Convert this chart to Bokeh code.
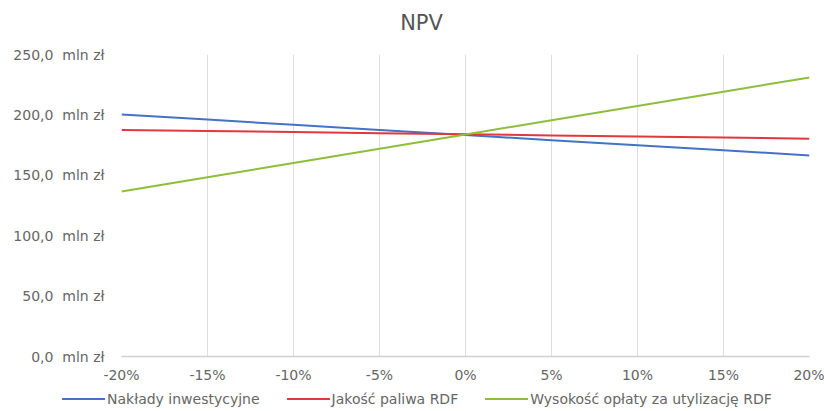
from bokeh.plotting import figure
from bokeh.layouts import column
from bokeh.models import FixedTicker, Range1d, Label, Div
from bokeh.embed import file_html
from bokeh.resources import INLINE

x_pct = [-20, -15, -10, -5, 0, 5, 10, 15, 20]
x_labels = ["-20%", "-15%", "-10%", "-5%", "0%", "5%", "10%", "15%", "20%"]
naklady = [200.3, 196.1, 191.8, 187.6, 183.4, 179.1, 174.9, 170.7, 166.4]
jakosc = [187.6, 186.7, 185.8, 184.9, 184.0, 183.0, 182.1, 181.2, 180.3]
oplata = [136.6, 148.4, 160.2, 172.0, 183.8, 195.6, 207.4, 219.2, 231.0]
y_ticks = [0, 50, 100, 150, 200, 250]
y_labels = ["0,0\u00a0 mln zł", "50,0\u00a0 mln zł", "100,0\u00a0 mln zł",
            "150,0\u00a0 mln zł", "200,0\u00a0 mln zł", "250,0\u00a0 mln zł"]
series_names = ["Nakłady inwestycyjne", "Jakość paliwa RDF", "Wysokość opłaty za utylizację RDF"]
colors = ["#4472C4", "#E0383E", "#8DBF3A"]
title_text = "NPV"

FONT = "DejaVu Sans"
TXT = "#666666"

# --- title strip (its frame is aligned with the chart frame: x 121..809) ---
tf = figure(width=824, height=44, output_backend="svg", toolbar_location=None,
            x_range=Range1d(121, 809), y_range=Range1d(0, 44),
            min_border=0, x_axis_type=None, y_axis_type=None)
tf.outline_line_color = None
tf.grid.visible = False
tf.add_layout(Label(x=421, y=22, text=title_text, text_align="center", text_baseline="middle",
                    text_font=FONT, text_font_size="21px", text_color="#555555"))

# --- main chart ---
p = figure(frame_width=688, frame_height=302, output_backend="svg", toolbar_location=None,
           x_range=Range1d(-20, 20), y_range=Range1d(0, 250),
           min_border_left=121, min_border_right=15, min_border_top=10, min_border_bottom=29)
p.outline_line_color = None

for ys, c in zip([naklady, jakosc, oplata], colors):
    p.line(x_pct, ys, line_color=c, line_width=2)

p.xaxis.ticker = FixedTicker(ticks=x_pct)
p.xaxis.major_label_overrides = {v: l for v, l in zip(x_pct, x_labels)}
p.yaxis.ticker = FixedTicker(ticks=y_ticks)
p.yaxis.major_label_overrides = {v: l for v, l in zip(y_ticks, y_labels)}
for ax in (p.xaxis[0], p.yaxis[0]):
    ax.major_label_text_font = FONT
    ax.major_label_text_font_size = "14px"
    ax.major_label_text_color = TXT
    ax.major_tick_line_color = None
    ax.minor_tick_line_color = None
    ax.major_tick_out = 0
    ax.major_tick_in = 0
p.yaxis.axis_line_color = None
p.yaxis.major_label_standoff = 17
p.xaxis.axis_line_color = "#d0d0d0"
p.xaxis.axis_line_width = 1.5
p.xaxis.major_label_standoff = 10
p.xgrid.grid_line_color = "#dedede"
p.ygrid.grid_line_color = None

# --- legend strip ---
items_html = "".join(
    f'<span style="display:inline-block;width:43px;height:0;border-top:2px solid {c};'
    f'vertical-align:middle;margin-right:2px"></span>'
    f'<span style="vertical-align:middle;margin-right:27px">{n}</span>'
    for n, c in zip(series_names, colors)
)
legend_div = Div(
    text=f'<div style="white-space:nowrap;padding-left:62px;line-height:26px;'
         f'font-family:\'{FONT}\';font-size:14px;color:{TXT}">{items_html}</div>',
    width=824, height=26, margin=0,
)

layout = column(tf, p, legend_div, spacing=0)
open("out.html", "w").write(file_html(layout, INLINE))
